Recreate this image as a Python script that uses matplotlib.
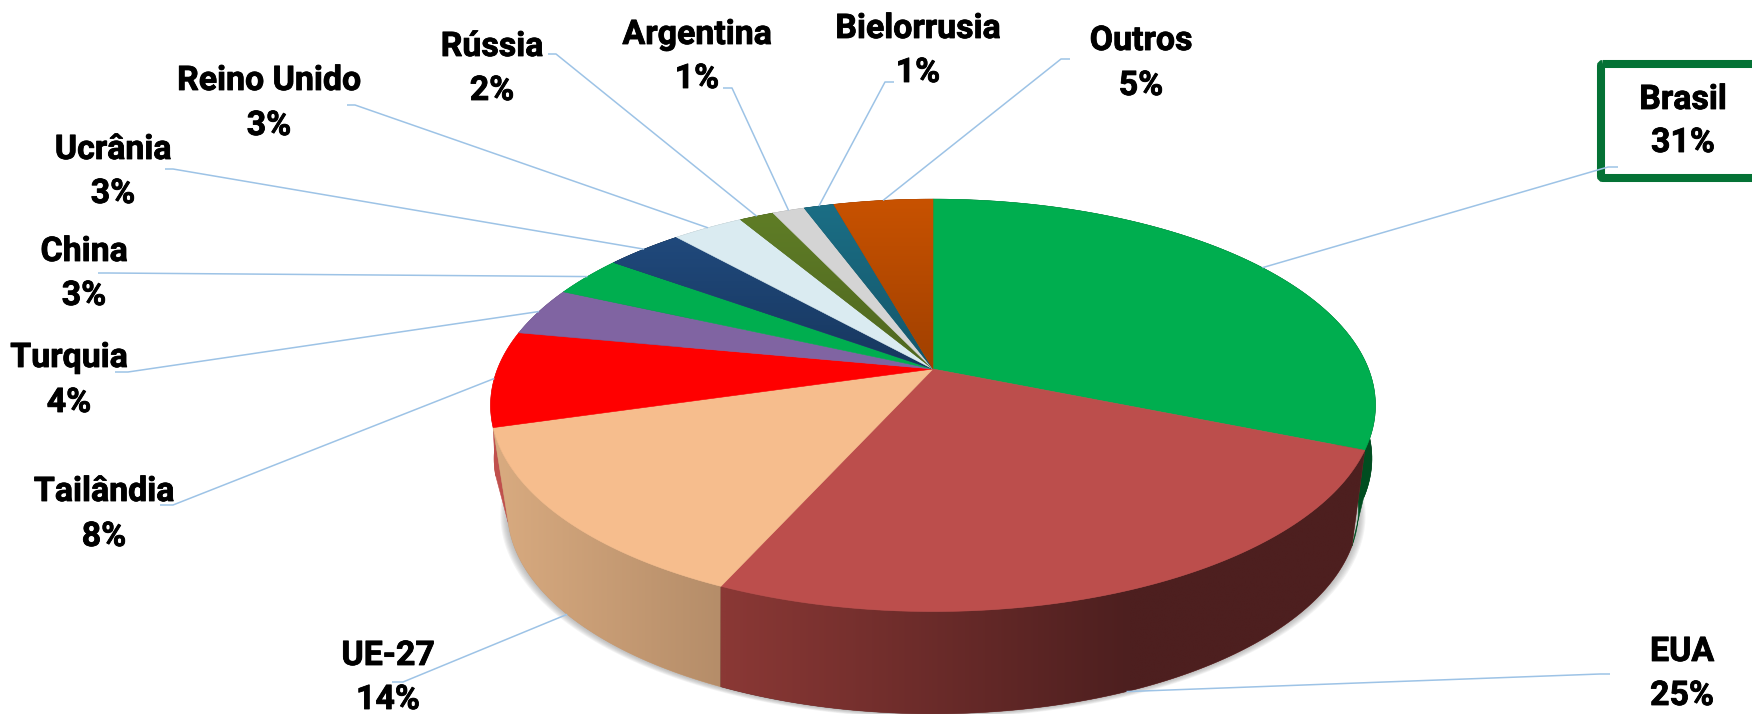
import matplotlib
matplotlib.use('Agg')
import matplotlib.pyplot as plt
import matplotlib.colors as mcolors
import matplotlib.patheffects as pe
from matplotlib.patches import Polygon, FancyBboxPatch
import numpy as np

plt.rcParams['font.family'] = ['Roboto', 'DejaVu Sans']

# data
paises = ['Brasil', 'EUA', 'UE-27', 'Tailândia', 'Turquia', 'China', 'Ucrânia',
          'Reino Unido', 'Rússia', 'Argentina', 'Bielorrusia', 'Outros']
valores = [31.2, 25.5, 13.8, 7.5, 3.8, 3.2, 3.4, 3.1, 1.5, 1.4, 1.3, 4.3]
rotulos = ['31%', '25%', '14%', '8%', '4%', '3%', '3%', '3%', '2%', '1%', '1%', '5%']

# colours: top face (rim, centre), side face (left, right)
cor_topo = ['#00AE4F', '#BC4E4C', '#F6BD8D', '#FF0000', '#8064A2', '#00AE4F',
            '#20497C', '#DAEBF1', '#5F7D26', '#D4D4D4', '#1B6E85', '#C85200']
cor_centro = ['#00AE4F', '#BC4E4C', '#F6BD8D', '#FF0000', '#8064A2', '#00AE4F',
              '#17375E', '#DAEBF1', '#4F6620', '#D4D4D4', '#14566A', '#A04000']
cor_lado1 = ['#004D20', '#8A3835', '#D9AB80', '#C0504D', '#5A4672', '#007A38',
             '#10263F', '#98A5A9', '#42571A', '#949494', '#124D5D', '#8A3900']
cor_lado2 = ['#004D20', '#4D1F1F', '#B58D69', '#C0504D', '#5A4672', '#007A38',
             '#10263F', '#98A5A9', '#42571A', '#949494', '#124D5D', '#8A3900']

# label layout in pixels: (x, y name, y pct), then leader start and elbow
pos_texto = [(1683, 100, 143), (1682, 652, 696), (388, 656, 700), (104, 492, 537),
             (69, 358, 403), (84, 252, 296), (113, 150, 194), (269, 81, 126),
             (492, 47, 91), (697, 35, 79), (918, 29, 73), (1141, 41, 86)]
linha_ini = [(1618, 167), (1610, 674), (392, 682), (160, 505), (115, 372), (98, 273),
             (165, 169), (347, 105), (548, 54), (723, 88), (894, 82), (1070, 59)]
linha_cot = [(1608, 167), (1600, 674), (403, 682), (173, 505), (128, 372), (108, 273),
             (173, 169), (355, 105), (556, 54), (732, 88), (885, 82), (1061, 59)]

cx = 933
topo = dict(y0=369, S=199.8, R=435.5, k=0.1762)
base = dict(y0=466, S=193.3, R=415.0, k=0.22)
# ring half way down, a bit wider: the outer side edges are curved
meia = dict(y0=417.5, S=196.5, R=430.0, k=0.2)


def aro(ang, d):
    # point of a perspective disc, ang clockwise from the top
    u, v = np.sin(ang), np.cos(ang)
    w = 1 + d['k'] * v
    return cx + d['R'] * u / w, d['y0'] - d['S'] * v / w


fig = plt.figure(figsize=(17.52, 7.14), dpi=100)
ax = fig.add_axes([0, 0, 1, 1])
ax.axis('off')


def preenche(pts, c1, c2, horizontal, zorder, x1=None, x2=None):
    pts = np.array(pts)
    # solid underlay, also closes the seams next to the clipped gradients
    medio = (np.array(mcolors.to_rgb(c1)) + np.array(mcolors.to_rgb(c2))) / 2
    ax.add_patch(Polygon(pts, closed=True, fc=medio, ec=medio, lw=0.4, zorder=zorder))
    if c1 == c2:
        return
    a, b = np.array(mcolors.to_rgb(c1)), np.array(mcolors.to_rgb(c2))
    xmin, xmax, ymin, ymax = pts[:, 0].min(), pts[:, 0].max(), pts[:, 1].min(), pts[:, 1].max()
    if horizontal:
        xs = np.linspace(xmin, xmax, 300)
        xa = xmin if x1 is None else x1
        xb = xmax if x2 is None else x2
        t = np.clip((xs - xa) / (xb - xa), 0, 1)[:, None]
        img = (a + (b - a) * t)[None, :, :]
    else:
        t = np.linspace(0, 1, 200)[:, None]
        img = (a + (b - a) * t)[:, None, :]
    im = ax.imshow(img, extent=(xmin, xmax, ymax, ymin), origin='upper',
                   aspect='auto', zorder=zorder, interpolation='bilinear')
    clip = Polygon(pts, closed=True, transform=ax.transData, fc='none', ec='none')
    ax.add_patch(clip)
    im.set_clip_path(clip)


total = sum(valores)
fim = np.cumsum(valores) / total * 2 * np.pi
ini = np.r_[0, fim[:-1]]

# soft shadow under the base
th = np.linspace(0, 2 * np.pi, 400)
bx, by = aro(th, base)
for e in np.linspace(7, 1, 7):
    sx = cx + (bx - cx) * (1 + e / 415)
    sy = by + e * 0.6
    ax.add_patch(Polygon(np.c_[sx, sy], closed=True, fc='#808080', ec='none', alpha=0.09, zorder=1))

# side walls, back to front
meio = (ini + fim) / 2
for n, i in enumerate(np.argsort(-np.cos(meio))):
    a = np.linspace(ini[i], fim[i], 120)
    tx, ty = aro(a, topo)
    gx, gy = aro(a, base)
    if paises[i] in ('Brasil', 'Tailândia'):
        mx, my = aro(a, meia)
        preenche(np.r_[np.c_[tx, ty], np.c_[mx, my][::-1]], cor_lado1[i], cor_lado2[i], True, 2 + n * 0.01)
        preenche(np.r_[np.c_[mx, my], np.c_[gx, gy][::-1]], cor_lado1[i], cor_lado2[i], True, 2 + n * 0.01)
    elif paises[i] == 'EUA':
        pts = np.r_[np.c_[tx, ty], np.c_[gx, gy][::-1]]
        preenche(pts, cor_lado1[i], cor_lado2[i], True, 2 + n * 0.01, 726, 1130)
    else:
        pts = np.r_[np.c_[tx, ty], np.c_[gx, gy][::-1]]
        preenche(pts, cor_lado1[i], cor_lado2[i], True, 2 + n * 0.01)

# top faces
for i in range(len(valores)):
    a = np.linspace(ini[i], fim[i], 120)
    tx, ty = aro(a, topo)
    pts = np.r_[[[cx, topo['y0']]], np.c_[tx, ty]]
    preenche(pts, cor_topo[i], cor_centro[i], False, 4)

# Brasil label box, runs off the right edge
ax.add_patch(FancyBboxPatch((1601, 64), 170, 114, boxstyle='round,pad=0,rounding_size=2',
                            fc='none', ec='#047235', lw=5.8, zorder=5, clip_on=True))

# leaders and labels
grosso = [pe.withStroke(linewidth=0.6, foreground='black')]
for i in range(len(valores)):
    disco = base if np.cos(meio[i]) < -0.5 else topo
    px, py = aro(meio[i], disco)
    xs = [linha_ini[i][0], linha_cot[i][0], px]
    ys = [linha_ini[i][1], linha_cot[i][1], py]
    ax.plot(xs, ys, color='#9DC3E6', lw=1.1, zorder=6, solid_capstyle='butt')
    x, y1, y2 = pos_texto[i]
    ax.text(x, y1, paises[i], ha='center', va='center', fontsize=24.4, fontweight='bold',
            color='black', zorder=7, path_effects=grosso)
    ax.text(x, y2, rotulos[i], ha='center', va='center', fontsize=24.4, fontweight='bold',
            color='black', zorder=7, path_effects=grosso)

ax.set_xlim(0, 1752)
ax.set_ylim(714, 0)
fig.savefig('out.png', dpi=100, facecolor='white')
